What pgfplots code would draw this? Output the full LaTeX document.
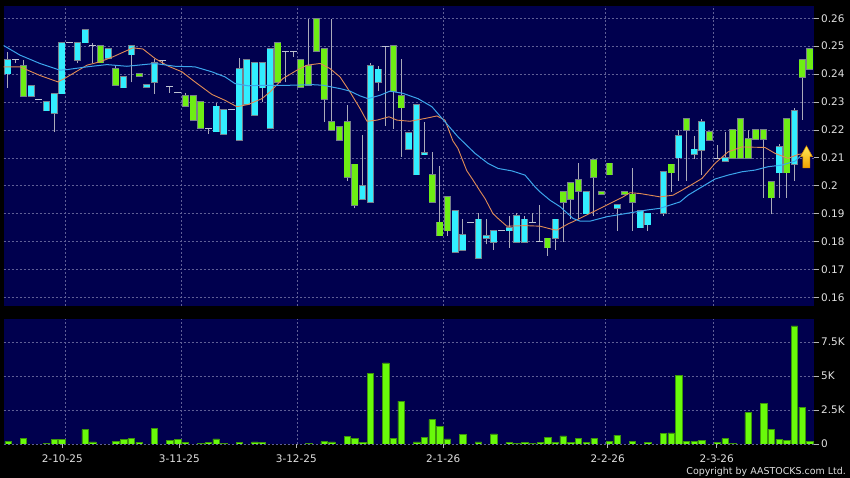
\documentclass[border=0pt]{standalone}
\usepackage{pgfplots}
\pgfplotsset{compat=1.18}
\usepackage{pgfplotstable}
\usepackage{fontspec}
\setmainfont{DejaVu Sans}
\definecolor{navy}{RGB}{0,0,78}
\definecolor{gridc}{RGB}{95,95,150}
\definecolor{cyanc}{RGB}{50,238,255}
\definecolor{greenc}{RGB}{110,238,20}
\definecolor{outc}{RGB}{120,128,140}
\definecolor{wickc}{RGB}{170,170,185}
\definecolor{dojic}{RGB}{190,195,210}
\definecolor{orangec}{RGB}{225,140,85}
\definecolor{bluec}{RGB}{60,165,235}
\definecolor{volc}{RGB}{105,250,10}
\definecolor{voloutc}{RGB}{60,150,10}
\definecolor{labelc}{RGB}{225,225,225}
\definecolor{tickc}{RGB}{180,180,180}

\pgfplotstableread{
x b t
0 0.2402 0.2452
3 0.2321 0.2359
5 0.2269 0.2301
6 0.2259 0.2330
7 0.2330 0.2511
9 0.2451 0.2511
10 0.2513 0.2559
13 0.2458 0.2491
15 0.2351 0.2391
16 0.2470 0.2501
18 0.2354 0.2361
19 0.2370 0.2441
27 0.2194 0.2284
28 0.2185 0.2272
30 0.2163 0.2419
31 0.2292 0.2452
32 0.2253 0.2441
33 0.2351 0.2441
34 0.2206 0.2491
46 0.1952 0.2000
47 0.1940 0.2429
48 0.2370 0.2417
52 0.2130 0.2190
53 0.2040 0.2291
54 0.2111 0.2118
58 0.1761 0.1910
59 0.1769 0.1823
61 0.1740 0.1879
62 0.1811 0.1821
63 0.1799 0.1839
65 0.1839 0.1849
66 0.1799 0.1891
67 0.1799 0.1879
71 0.1811 0.1879
75 0.1900 0.1978
79 0.1919 0.1931
82 0.1850 0.1910
83 0.1861 0.1901
85 0.1901 0.2050
87 0.2101 0.2179
89 0.2112 0.2130
90 0.2128 0.2229
93 0.2089 0.2099
100 0.2047 0.2140
102 0.2077 0.2268
}\cyanT

\pgfplotstableread{
x b t
2 0.2322 0.2429
12 0.2441 0.2501
14 0.2360 0.2419
17 0.2392 0.2402
23 0.2284 0.2321
24 0.2234 0.2321
25 0.2206 0.2301
35 0.2370 0.2511
38 0.2354 0.2452
39 0.2360 0.2429
40 0.2482 0.2599
41 0.2310 0.2491
42 0.2200 0.2230
43 0.2163 0.2211
44 0.2030 0.2229
45 0.1931 0.2077
50 0.2339 0.2501
51 0.2280 0.2322
55 0.1940 0.2040
56 0.1821 0.1869
57 0.1839 0.1960
70 0.1778 0.1811
72 0.1940 0.1978
73 0.1951 0.2011
74 0.1981 0.2020
76 0.2030 0.2092
77 0.1969 0.1978
78 0.2040 0.2080
80 0.1969 0.1978
81 0.1940 0.1969
86 0.2047 0.2077
88 0.2200 0.2239
91 0.2164 0.2194
94 0.2099 0.2199
95 0.2099 0.2239
96 0.2099 0.2167
97 0.2167 0.2199
98 0.2167 0.2199
99 0.1957 0.2015
101 0.2047 0.2239
103 0.2388 0.2450
104 0.2417 0.2490
}\greenT

\pgfplotstableread{
x v
1 0.2452
4 0.2309
8 0.2513
11 0.2501
20 0.2449
21 0.2354
22 0.2333
26 0.2206
29 0.2274
36 0.2482
37 0.2482
49 0.2500
60 0.1869
64 0.1839
68 0.1869
69 0.1799
92 0.2099
}\dojiT

\pgfplotstableread{
x lo hi
0 0.2351 0.2479
1 0.2441 0.2452
2 0.2322 0.2452
6 0.2191 0.2330
9 0.2439 0.2511
11 0.2439 0.2513
14 0.2360 0.2434
16 0.2370 0.2501
19 0.2330 0.2453
20 0.2435 0.2449
21 0.2333 0.2354
23 0.2284 0.2333
26 0.2185 0.2206
27 0.2194 0.2295
30 0.2163 0.2458
33 0.2301 0.2441
36 0.2370 0.2482
37 0.2462 0.2482
39 0.2360 0.2599
41 0.2229 0.2491
42 0.2200 0.2599
44 0.2018 0.2291
45 0.1919 0.2077
46 0.1952 0.2181
47 0.1940 0.2441
48 0.2339 0.2429
49 0.2215 0.2500
50 0.2203 0.2501
51 0.2104 0.2455
54 0.2111 0.2229
55 0.1940 0.2121
56 0.1821 0.2070
57 0.1821 0.1960
59 0.1769 0.1880
61 0.1740 0.1901
62 0.1790 0.1880
63 0.1770 0.1839
65 0.1778 0.1892
66 0.1799 0.1901
67 0.1799 0.1891
68 0.1869 0.1901
69 0.1799 0.1931
70 0.1749 0.1811
71 0.1770 0.1879
72 0.1799 0.1978
73 0.1880 0.2011
74 0.1880 0.2080
76 0.1891 0.2092
79 0.1839 0.1931
81 0.1839 0.2062
83 0.1839 0.1901
85 0.1891 0.2050
86 0.1978 0.2077
87 0.2018 0.2199
88 0.2018 0.2239
89 0.2096 0.2179
90 0.2037 0.2239
92 0.2099 0.2147
93 0.2089 0.2194
96 0.2099 0.2199
98 0.1957 0.2199
99 0.1897 0.2015
100 0.1957 0.2150
101 0.1957 0.2239
102 0.2017 0.2279
103 0.2237 0.2450
}\wickT

\pgfplotstableread{
x y
-0.6 0.2426
1.56 0.2426
4.15 0.2395
6.49 0.2372
7.39 0.2385
10.25 0.2432
11.93 0.2444
13.62 0.2462
16.2 0.2494
17.5 0.2490
19.07 0.2456
20.75 0.2429
22.57 0.2408
24.25 0.2372
26.46 0.2327
28.15 0.2306
29.7 0.2283
31.13 0.2291
32.94 0.2312
33.98 0.2336
35.67 0.2384
37.48 0.2414
38.78 0.2432
40.47 0.2438
41.76 0.2420
43.06 0.2390
44.36 0.2336
45.65 0.2277
46.56 0.2231
47.86 0.2235
49.42 0.2247
50.45 0.2235
52.14 0.2231
54.09 0.2241
55.64 0.2250
56.68 0.2235
57.7 0.2161
58.37 0.2133
59.5 0.2054
60.18 0.2026
61.2 0.1982
61.87 0.1954
62.9 0.1900
63.55 0.1883
64.7 0.1855
67.06 0.1857
69.0 0.1855
70.7 0.1843
71.21 0.1841
72.7 0.1864
73.28 0.1871
75.49 0.1901
77.69 0.1931
79.77 0.1960
80.67 0.1975
81.97 0.1972
84.57 0.1960
86.25 0.1966
88.2 0.1996
90.01 0.2026
91.7 0.2080
93.39 0.2121
95.2 0.2139
98.18 0.2137
99.48 0.2116
101.17 0.2098
102.46 0.2112
104 0.2118
}\orangeT

\pgfplotstableread{
x y
-0.6 0.2503
1.56 0.2468
4.15 0.2438
6.74 0.2414
7.65 0.2416
10.25 0.2426
12.84 0.2434
15.43 0.2428
19.07 0.2438
21.66 0.2428
24.25 0.2426
26.46 0.2408
28.15 0.2390
29.44 0.2366
31.13 0.2358
32.94 0.2360
36.58 0.2360
39.56 0.2362
40.86 0.2360
43.06 0.2348
44.36 0.2339
45.65 0.2322
46.69 0.2312
48.25 0.2324
49.55 0.2339
51.23 0.2331
53.18 0.2312
54.99 0.2283
56.68 0.2229
58.37 0.2175
60.57 0.2116
62.26 0.2080
63.55 0.2062
65.37 0.2053
67.06 0.2038
68.35 0.1996
69.0 0.1978
70.3 0.1948
71.6 0.1925
73.28 0.1883
74.2 0.1873
75.49 0.1873
77.69 0.1889
80.28 0.1901
82.88 0.1913
84.57 0.1919
87.16 0.1942
88.2 0.1966
90.01 0.1996
91.7 0.2024
93.39 0.2038
95.2 0.2050
96.89 0.2056
98.57 0.2068
100.39 0.2074
102.08 0.2088
102.72 0.2104
104 0.2115
}\blueT

\pgfplotstableread{
x v
0 170
2 390
5 70
6 320
7 320
10 1050
11 150
14 170
15 320
16 390
17 120
19 1130
21 270
22 340
23 100
25 50
26 100
27 370
28 70
30 120
32 150
33 100
39 70
41 170
42 150
44 540
45 440
46 100
47 5170
49 5960
50 440
51 3160
53 150
54 490
55 1790
56 1270
57 370
59 690
61 150
63 740
65 120
66 50
67 100
68 30
69 100
70 470
71 100
72 590
73 120
74 440
75 100
76 420
78 220
79 660
81 220
83 120
85 760
86 810
87 5070
88 170
89 200
90 270
92 100
93 390
94 70
96 2300
98 2990
99 1050
100 340
101 290
102 8680
103 2720
104 200
}\volT

\pgfplotsset{
  base/.style={
    scale only axis, width=810.5bp, xmin=-0.58, xmax=104.54, anchor=south west,
    axis background/.style={fill=navy}, axis line style={draw=none},
    xmajorgrids, ymajorgrids,
    grid style={gridc, line width=0.6bp, dash pattern=on 2bp off 2bp},
    xtick={7.43,22.48,37.48,56.46,77.52,91.48}, xticklabels={},
    xtick style={draw=none}, xtick pos=bottom,
    ytick pos=right, yticklabel pos=right,
    ytick style={draw=tickc, line width=0.8bp},
    tick align=outside, major tick length=5bp,
    tick label style={font=\fontsize{10.5}{12}\selectfont, text=labelc},
    yticklabel style={anchor=west, inner sep=0pt, xshift=2bp},
  },
  seg/.style={mark=none, forget plot, line cap=butt, quiver={u=0, v=\thisrow{t}-\thisrow{b}}, -},
}

\begin{document}
\begin{tikzpicture}
\fill[black] (0bp,0bp) rectangle (850bp,478bp);

\begin{axis}[base, at={(3.5bp,172bp)}, height=300bp,
  ymin=0.1569, ymax=0.2644,
  ytick={0.16,0.17,0.18,0.19,0.20,0.21,0.22,0.23,0.24,0.25,0.26},
  yticklabels={0.16,0.17,0.18,0.19,0.2,0.21,0.22,0.23,0.24,0.25,0.26}]
% wicks
\addplot[wickc, line width=1bp, mark=none, forget plot, line cap=butt,
  quiver={u=0, v=\thisrow{hi}-\thisrow{lo}}, -]
  table[x=x, y=lo] {\wickT};
% doji
\addplot[dojic, line width=7bp, mark=none, forget plot, line cap=butt,
  quiver={u=0, v=0.0004}, -]
  table[x=x, y expr=\thisrow{v}-0.0002] {\dojiT};
% cyan bodies
\addplot[outc, line width=7bp, mark=none, forget plot, line cap=butt,
  quiver={u=0, v=\thisrow{t}-\thisrow{b}+0.0005}, -]
  table[x=x, y expr=\thisrow{b}-0.00025] {\cyanT};
\addplot[cyanc, line width=5.6bp, mark=none, forget plot, line cap=butt,
  quiver={u=0, v=\thisrow{t}-\thisrow{b}}, -]
  table[x=x, y=b] {\cyanT};
% green bodies
\addplot[outc, line width=7bp, mark=none, forget plot, line cap=butt,
  quiver={u=0, v=\thisrow{t}-\thisrow{b}+0.0005}, -]
  table[x=x, y expr=\thisrow{b}-0.00025] {\greenT};
\addplot[greenc, line width=5.6bp, mark=none, forget plot, line cap=butt,
  quiver={u=0, v=\thisrow{t}-\thisrow{b}}, -]
  table[x=x, y=b] {\greenT};
% moving averages
\addplot[orangec, line width=0.9bp, mark=none] table[x=x,y=y] {\orangeT};
\addplot[bluec, line width=1bp, mark=none] table[x=x,y=y] {\blueT};
% arrow
\fill[top color={rgb,255:red,255;green,235;blue,90}, bottom color={rgb,255:red,240;green,160;blue,0}, draw={rgb,255:red,220;green,140;blue,0}, line width=0.5bp]
  (axis cs:102.78,0.2104) -- (axis cs:103.56,0.2143) -- (axis cs:104.34,0.2104)
  -- (axis cs:104.01,0.2104) -- (axis cs:104.01,0.2064) -- (axis cs:103.11,0.2064)
  -- (axis cs:103.11,0.2104) -- cycle;
\end{axis}

\begin{axis}[base, at={(3.5bp,34bp)}, height=125bp,
  ymin=0, ymax=9190,
  ytick={0,2500,5000,7500}, yticklabels={0,2.5K,5K,7.5K},
  xticklabel style={anchor=north, inner sep=0pt, yshift=-7bp},
  extra x ticks={7.04,22.22,37.39,56.46,77.78,91.92},
  extra x tick labels={2-10-25,3-11-25,3-12-25,2-1-26,2-2-26,2-3-26},
  extra x tick style={grid=none, major tick length=4bp, xtick style={draw=tickc, line width=0.8bp}}]
\addplot[ybar, bar width=6.4bp, fill=volc, draw=voloutc, line width=0.5bp] table[x=x,y=v] {\volT};
\end{axis}

\node[anchor=east, inner sep=0pt, text=labelc, font=\fontsize{9.5}{11}\selectfont] at (846bp,6.3bp) {Copyright by AASTOCKS.com Ltd.};
\end{tikzpicture}
\end{document}
